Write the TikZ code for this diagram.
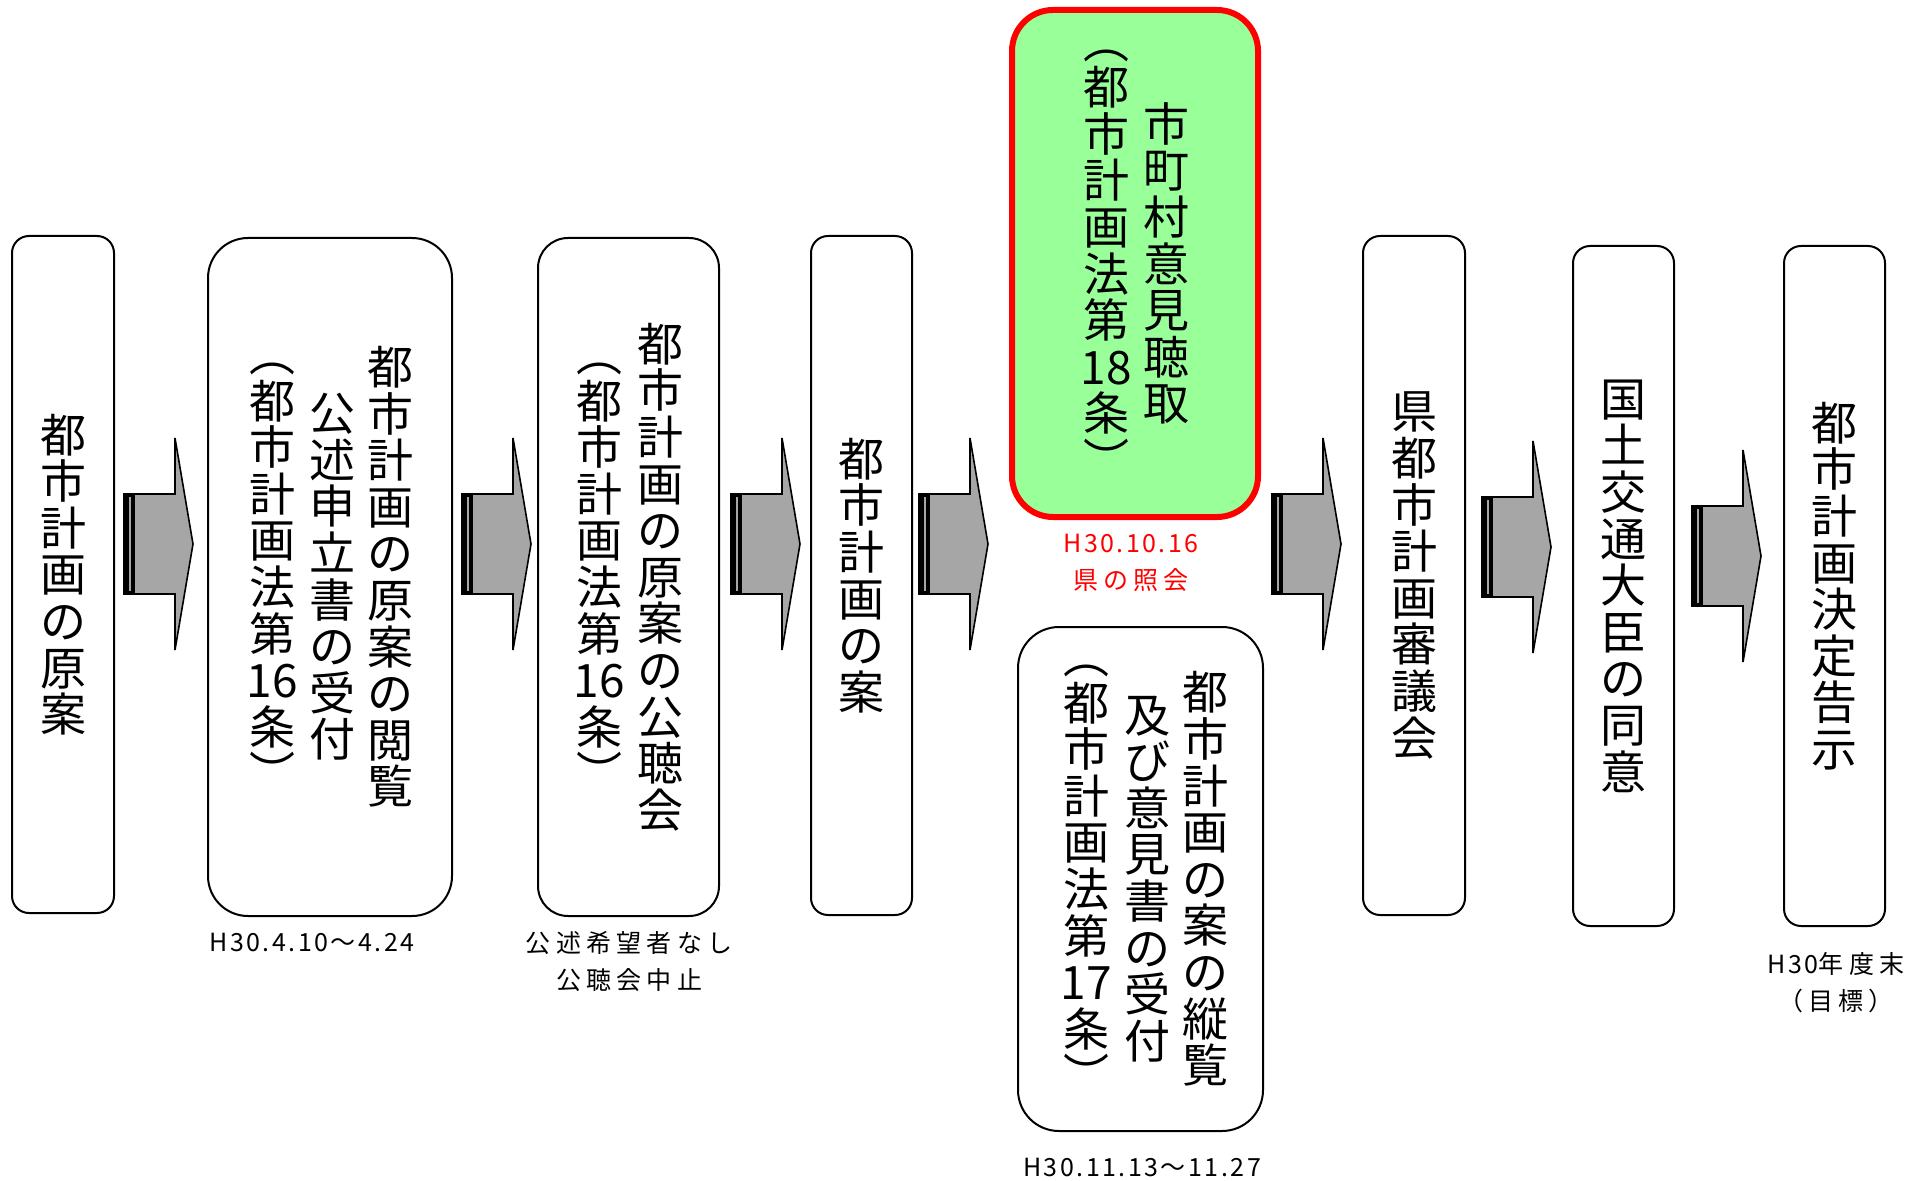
\documentclass[tikz,border=0pt]{standalone}
\usepackage{fontspec}
\setmainfont{Noto Sans CJK JP}
\newfontfamily\labelfont[LetterSpace=10]{Noto Sans CJK JP}
\newfontfamily\labelcjk[LetterSpace=21]{Noto Sans CJK JP}
\definecolor{arrowgray}{HTML}{A6A6A6}
\definecolor{askgreen}{HTML}{99FF99}
% one vertical column of characters, rows at a fixed pitch
\newcommand\tate[1]{$\vcenter{\baselineskip=23.3pt\lineskiplimit=-\maxdimen\lineskip=0pt\let\\\cr\halign{\hfil##\hfil\cr#1\crcr}}$}
\newcommand\colgap{\hspace{6pt}}
% block arrow: #1 = left end of the stem, #2 = height of the tip
\newcommand\grayarrow[2]{%
  \filldraw[fill=arrowgray,line width=0.8pt,line join=miter] (#1,#2-50)--(#1+51,#2-50)--(#1+51,#2-106)--(#1+69,#2)--(#1+51,#2+106)--(#1+51,#2+50)--(#1,#2+50)--cycle;
  \fill (#1,#2-50) rectangle (#1+11,#2+50);
  \draw[arrowgray,line width=0.8pt] (#1+6,#2-47)--(#1+6,#2+47);}
\tikzset{
  stepbox/.style={draw,line width=1pt,inner sep=0pt,outer sep=0pt,font=\fontsize{23}{23.3}\selectfont},
  datelabel/.style={font=\labelfont\fontsize{12.5}{18.5}\selectfont,align=center,inner sep=0pt}}
\begin{document}
\begin{tikzpicture}[x=0.5pt,y=-0.5pt]
    \useasboundingbox (0,0) rectangle (1930,1181);
    % steps
    \node[stepbox,minimum width=51pt,minimum height=338.5pt,rounded corners=8.5pt](b1) at (63,574.5){\tate{都\\市\\計\\画\\の\\原\\案}};
    \node[stepbox,minimum width=122pt,minimum height=339pt,rounded corners=20pt](b2) at (330,577){\tate{︵\\都\\市\\計\\画\\法\\第\\16\\条\\︶}\colgap\tate{公\\述\\申\\立\\書\\の\\受\\付}\colgap\tate{都\\市\\計\\画\\の\\原\\案\\の\\閲\\覧}\hspace{4pt}};
    \node[stepbox,minimum width=90.5pt,minimum height=339pt,rounded corners=15pt](b3) at (628.5,577){\tate{︵\\都\\市\\計\\画\\法\\第\\16\\条\\︶}\colgap\tate{都\\市\\計\\画\\の\\原\\案\\の\\公\\聴\\会}};
    \node[stepbox,minimum width=50.5pt,minimum height=339.5pt,rounded corners=8.5pt](b4) at (861.5,575.5){\tate{都\\市\\計\\画\\の\\案}};
    \node[stepbox,draw=red,line width=3pt,fill=askgreen,minimum width=123pt,minimum height=253.5pt,rounded corners=20.5pt](b5) at (1135,263.5){\tate{︵\\都\\市\\計\\画\\法\\第\\18\\条\\︶}\colgap\tate{市\\町\\村\\意\\見\\聴\\取}};
    \node[stepbox,minimum width=122.5pt,minimum height=252pt,rounded corners=20.5pt](b6) at (1140.5,879){\hspace{4pt}\tate{︵\\都\\市\\計\\画\\法\\第\\17\\条\\︶}\colgap\tate{及\\び\\意\\見\\書\\の\\受\\付}\colgap\tate{都\\市\\計\\画\\の\\案\\の\\縦\\覧}};
    \node[stepbox,minimum width=51pt,minimum height=339.5pt,rounded corners=8.5pt](b7) at (1414,575.5){\tate{県\\都\\市\\計\\画\\審\\議\\会}};
    \node[stepbox,minimum width=50.5pt,minimum height=340pt,rounded corners=8.5pt](b8) at (1623.5,586){\tate{国\\土\\交\\通\\大\\臣\\の\\同\\意}};
    \node[stepbox,minimum width=50.5pt,minimum height=340pt,rounded corners=8.5pt](b9) at (1834.5,586){\tate{都\\市\\計\\画\\決\\定\\告\\示}};
    % arrows
    \grayarrow{124}{544}
    \grayarrow{462}{544}
    \grayarrow{731}{544}
    \grayarrow{919}{544}
    \grayarrow{1272}{544}
    \grayarrow{1482}{547}
    \grayarrow{1692}{556}
    % dates
    \node[datelabel](l2) at (312,942){H30.4.10～4.24};
    \node[datelabel](l3) at (629,962){\labelcjk 公述希望者なし\\\labelcjk 公聴会中止};
    \node[datelabel,red](l5) at (1131,563){H30.10.16\\\labelcjk 県の照会};
    \node[datelabel](l6) at (1142,1167){H30.11.13～11.27};
    \node[datelabel](l9) at (1836,983){H30{\labelcjk 年度末}\\\labelcjk （目標）};
\end{tikzpicture}
\end{document}
